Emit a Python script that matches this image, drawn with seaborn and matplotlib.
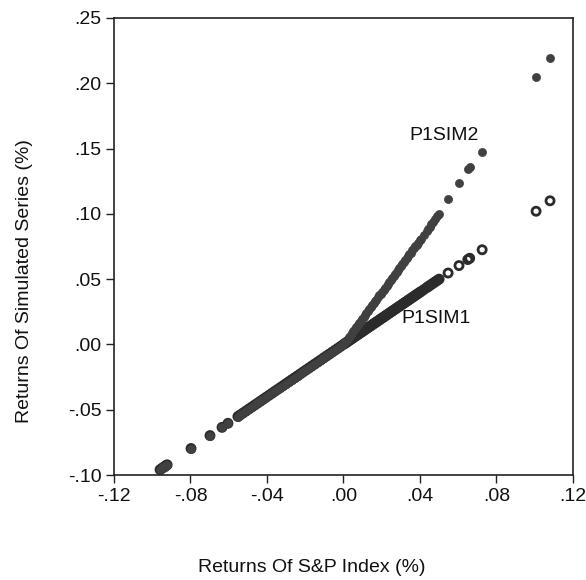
import pandas as pd
import matplotlib.pyplot as plt
import numpy as np
import seaborn as sns

# returns of the S&P index, negative side (both simulated series follow the index here)
neg_x = [-0.0959, -0.0950, -0.0942, -0.0935, -0.0928, -0.0922, -0.0797, -0.0698,
         -0.0635, -0.0604, -0.0552, -0.0540, -0.0525, -0.0510, -0.0495, -0.0480,
         -0.0465, -0.0450, -0.0435, -0.0420, -0.0405, -0.0390, -0.0375, -0.0360,
         -0.0345, -0.0330, -0.0315, -0.0300, -0.0285, -0.0270, -0.0255, -0.0240,
         -0.0225, -0.0210, -0.0195, -0.0180, -0.0165, -0.0150, -0.0135, -0.0120,
         -0.0105, -0.0090, -0.0075, -0.0060, -0.0045, -0.0030, -0.0015, 0.0]
neg_y = [-0.0959, -0.0950, -0.0942, -0.0935, -0.0928, -0.0922, -0.0797, -0.0698,
         -0.0635, -0.0604, -0.0552, -0.0540, -0.0525, -0.0510, -0.0495, -0.0480,
         -0.0465, -0.0450, -0.0435, -0.0420, -0.0405, -0.0390, -0.0375, -0.0360,
         -0.0345, -0.0330, -0.0315, -0.0300, -0.0285, -0.0270, -0.0255, -0.0240,
         -0.0225, -0.0210, -0.0195, -0.0180, -0.0165, -0.0150, -0.0135, -0.0120,
         -0.0105, -0.0090, -0.0075, -0.0060, -0.0045, -0.0030, -0.0015, 0.0]

# positive side
pos_x = [0.0008, 0.0015, 0.0022, 0.0030, 0.0038, 0.0045, 0.0052, 0.0060, 0.0068,
         0.0075, 0.0082, 0.0090, 0.0098, 0.0105, 0.0112, 0.0120, 0.0128, 0.0135,
         0.0142, 0.0150, 0.0158, 0.0165, 0.0172, 0.0180, 0.0188, 0.0195, 0.0202,
         0.0210, 0.0218, 0.0225, 0.0232, 0.0240, 0.0248, 0.0255, 0.0262, 0.0270,
         0.0278, 0.0285, 0.0292, 0.0300, 0.0308, 0.0315, 0.0322, 0.0330, 0.0338,
         0.0345, 0.0352, 0.0360, 0.0368, 0.0375, 0.0382, 0.0390, 0.0398, 0.0405,
         0.0420, 0.0435, 0.0442, 0.0450, 0.0460, 0.0470, 0.0480, 0.0490, 0.0500,
         0.0547, 0.0604, 0.0650, 0.0660, 0.0725, 0.1007, 0.1080]
sim1_pos_y = [0.0008, 0.0015, 0.0022, 0.0030, 0.0038, 0.0045, 0.0052, 0.0060, 0.0068,
              0.0075, 0.0082, 0.0090, 0.0098, 0.0105, 0.0112, 0.0120, 0.0128, 0.0135,
              0.0142, 0.0150, 0.0158, 0.0165, 0.0172, 0.0180, 0.0188, 0.0195, 0.0202,
              0.0210, 0.0218, 0.0225, 0.0232, 0.0240, 0.0248, 0.0255, 0.0262, 0.0270,
              0.0278, 0.0285, 0.0292, 0.0300, 0.0308, 0.0315, 0.0322, 0.0330, 0.0338,
              0.0345, 0.0352, 0.0360, 0.0368, 0.0375, 0.0382, 0.0390, 0.0398, 0.0405,
              0.0420, 0.0435, 0.0442, 0.0450, 0.0460, 0.0470, 0.0480, 0.0490, 0.0500,
              0.0547, 0.0604, 0.0650, 0.0660, 0.0725, 0.1020, 0.1100]
sim2_pos_y = [0.0016, 0.0030, 0.0044, 0.0060, 0.0076, 0.0090, 0.0104, 0.0120, 0.0136,
              0.0150, 0.0164, 0.0180, 0.0196, 0.0210, 0.0224, 0.0240, 0.0256, 0.0270,
              0.0284, 0.0300, 0.0316, 0.0330, 0.0344, 0.0360, 0.0376, 0.0390, 0.0404,
              0.0420, 0.0436, 0.0450, 0.0464, 0.0480, 0.0496, 0.0510, 0.0524, 0.0540,
              0.0556, 0.0570, 0.0584, 0.0600, 0.0616, 0.0630, 0.0644, 0.0660, 0.0676,
              0.0690, 0.0704, 0.0720, 0.0736, 0.0750, 0.0764, 0.0780, 0.0796, 0.0810,
              0.0840, 0.0870, 0.0884, 0.0900, 0.0920, 0.0940, 0.0960, 0.0980, 0.1000,
              0.1110, 0.1240, 0.1340, 0.1360, 0.1470, 0.2050, 0.2190]

sim1 = pd.DataFrame({'x': neg_x + pos_x, 'y': neg_y + sim1_pos_y})
sim2 = pd.DataFrame({'x': neg_x + pos_x, 'y': neg_y + sim2_pos_y})

sns.set_style('white')
plt.rcParams['font.family'] = ['Liberation Sans', 'DejaVu Sans']
fs = 14

fig = plt.figure(figsize=(5.86, 5.80), dpi=100)
ax = fig.add_axes([0.1945, 0.181, 0.7833, 0.788])

sns.scatterplot(data=sim1, x='x', y='y', ax=ax, s=34, marker='o',
                facecolor='none', edgecolor='#2b2b2b', linewidth=2.0)
sns.scatterplot(data=sim2, x='x', y='y', ax=ax, s=34, marker='o',
                color='#404040', edgecolor='#404040', linewidth=0.5)

ax.set_xlim(-0.12, 0.12)
ax.set_ylim(-0.10, 0.25)
xt = [-0.12, -0.08, -0.04, 0.0, 0.04, 0.08, 0.12]
yt = [-0.10, -0.05, 0.0, 0.05, 0.10, 0.15, 0.20, 0.25]
ax.set_xticks(xt)
ax.set_yticks(yt)
ax.set_xticklabels(['-.12', '-.08', '-.04', '.00', '.04', '.08', '.12'])
ax.set_yticklabels(['-.10', '-.05', '.00', '.05', '.10', '.15', '.20', '.25'])
ax.tick_params(axis='both', direction='out', length=6, width=1, color='#222222',
               labelsize=fs, labelcolor='#111111', pad=3,
               bottom=True, left=True, top=False, right=False)

for sp in ax.spines.values():
    sp.set_color('#222222')
    sp.set_linewidth(1.2)

ax.text(0.0526, 0.160, 'P1SIM2', ha='center', va='center', fontsize=fs, color='#111111')
ax.text(0.0484, 0.020, 'P1SIM1', ha='center', va='center', fontsize=fs, color='#111111')

ax.set_xlabel('Returns Of S&P Index (%)', fontsize=fs, color='#111111')
ax.set_ylabel('Returns Of Simulated Series (%)', fontsize=fs, color='#111111')
ax.xaxis.set_label_coords(0.431, -0.183)
ax.yaxis.set_label_coords(-0.176, 0.425)

fig.savefig('out.png', dpi=100)
